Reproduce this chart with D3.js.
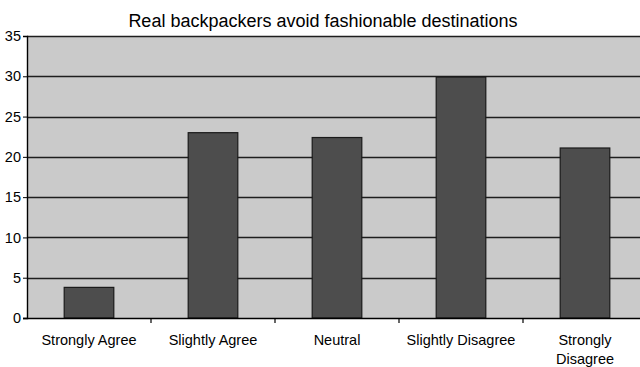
<!DOCTYPE html>
<html>
<head>
<meta charset="utf-8">
<script src="https://cdn.jsdelivr.net/npm/d3@7"></script>
<style>
  body { margin: 0; background: #fff; }
  svg { display: block; font-family: "Liberation Sans", Arial, sans-serif; }
</style>
</head>
<body>
<svg width="640" height="367"></svg>
<script>
'use strict';

const title = "Real backpackers avoid fashionable destinations";
const categories = ["Strongly Agree", "Slightly Agree", "Neutral", "Slightly Disagree", "Strongly Disagree"];
const values = [3.8, 23.0, 22.4, 29.9, 21.1];
const yTicks = [0, 5, 10, 15, 20, 25, 30, 35];

document.addEventListener('DOMContentLoaded', function () {
   const svg = d3.select("svg");

   // plot box runs off the right edge like the original
   const left = 27, top = 36, bottom = 318, right = 647;

   const x = d3.scaleBand()
      .domain(categories)
      .range([left, right])
      .paddingInner(0.6)
      .paddingOuter(0.3);

   const y = d3.scaleLinear()
      .domain([0, 35])
      .range([bottom, top]);

   svg.append("rect")
      .attr("x", left)
      .attr("y", top)
      .attr("width", right - left)
      .attr("height", bottom - top)
      .style("fill", "#cacaca");

   // gridlines
   svg.append("g")
      .selectAll("line")
      .data(yTicks.filter(d => d > 0))
      .enter()
      .append("line")
      .attr("x1", left)
      .attr("x2", right)
      .attr("y1", d => Math.round(y(d)) + 0.5)
      .attr("y2", d => Math.round(y(d)) + 0.5)
      .style("stroke", "#1e1e1e")
      .style("stroke-width", "1.6px");

   svg.append("g")
      .selectAll("rect")
      .data(values)
      .enter()
      .append("rect")
      .attr("x", (d, i) => x(categories[i]))
      .attr("y", d => y(d))
      .attr("width", x.bandwidth())
      .attr("height", d => bottom - y(d))
      .style("fill", "#4d4d4d")
      .style("stroke", "#1a1a1a")
      .style("stroke-width", "1.2px");

   // y axis
   const yAxis = svg.append("g")
      .attr("transform", `translate(${left},0)`)
      .call(d3.axisLeft(y).tickValues(yTicks).tickSize(4).tickPadding(2));
   yAxis.select(".domain").style("stroke", "#000").style("stroke-width", "1.4px");
   yAxis.selectAll(".tick line").style("stroke", "#000");
   yAxis.selectAll("text")
      .style("font-size", "14.5px")
      .style("fill", "#000")
      .attr("font-family", null);

   // x axis: ticks sit between categories
   const xg = svg.append("g");
   xg.append("line")
      .attr("x1", left - 4)
      .attr("x2", right)
      .attr("y1", bottom + 0.5)
      .attr("y2", bottom + 0.5)
      .style("stroke", "#000")
      .style("stroke-width", "1.4px");
   xg.selectAll("line.tk")
      .data(categories.slice(1))
      .enter()
      .append("line")
      .attr("class", "tk")
      .attr("x1", c => x(c) - x.step() * 0.3)
      .attr("x2", c => x(c) - x.step() * 0.3)
      .attr("y1", bottom)
      .attr("y2", bottom + 5)
      .style("stroke", "#000")
      .style("stroke-width", "1.2px");

   const labels = xg.selectAll("text")
      .data(categories)
      .enter()
      .append("text")
      .attr("x", c => x(c) + x.bandwidth() / 2)
      .attr("y", bottom + 27)
      .style("text-anchor", "middle")
      .style("font-size", "14.5px")
      .style("fill", "#000");
   labels.each(function (c) {
      const t = d3.select(this);
      if (c === "Strongly Disagree") {
         t.append("tspan").attr("x", x(c) + x.bandwidth() / 2).text("Strongly");
         t.append("tspan").attr("x", x(c) + x.bandwidth() / 2).attr("dy", 19).text("Disagree");
      } else {
         t.text(c);
      }
   });

   svg.append("text")
      .attr("x", 323)
      .attr("y", 27)
      .style("text-anchor", "middle")
      .style("font-size", "18px")
      .style("fill", "#000")
      .text(title);
});
</script>
</body>
</html>
